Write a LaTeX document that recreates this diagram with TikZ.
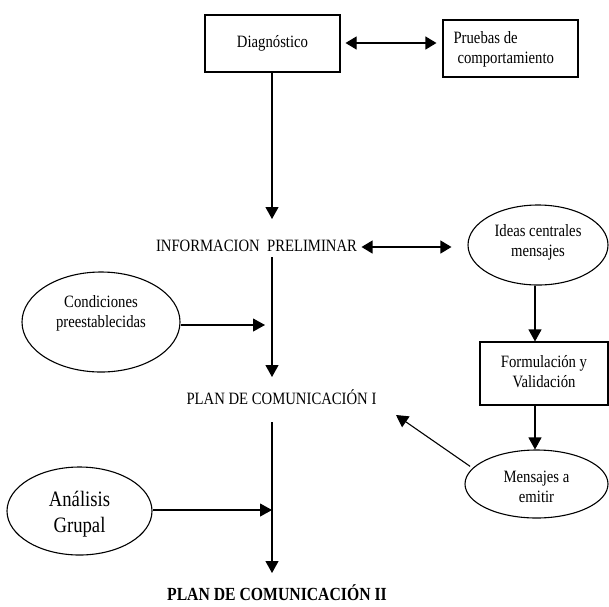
\documentclass[tikz,border=0pt]{standalone}
\usepackage{fontspec}
\setmainfont{Liberation Serif}[FakeStretch=0.85]
\usetikzlibrary{arrows.meta,shapes.geometric}
\begin{document}
\begin{tikzpicture}[x=1pt,y=-1pt, line width=1.1pt,
  arr/.style={-{Triangle[length=12pt,width=13pt]}},
  darr/.style={{Triangle[length=11pt,width=13pt]}-{Triangle[length=11pt,width=13pt]}},
  box/.style={draw, rectangle, inner sep=0pt},
  ell/.style={draw, ellipse, inner sep=0pt},
  txt/.style={font=\fontsize{17.3}{20}\selectfont, align=center, inner sep=0pt},
  big/.style={font=\fontsize{22}{26}\selectfont, align=center, inner sep=0pt},
  bold/.style={font=\fontsize{18.5}{22}\selectfont\bfseries, inner sep=0pt}]
\useasboundingbox (0,0) rectangle (609,606);

% boxes
\node[box, minimum width=135pt, minimum height=57pt] (diag) at (272.5,43.5) {};
\node[txt] (diagt) at (272.5,43) {Diagnóstico};
\node[box, minimum width=135pt, minimum height=57pt] (prue) at (510.5,48.5) {};
\node[txt, align=left, anchor=west] (pruet) at (453,49) {Pruebas de\\\hspace{4pt}comportamiento};

% texts
\node[txt] (info) at (256.5,246) {INFORMACION\ \ PRELIMINAR};
\node[txt] (plan1) at (281.5,397) {PLAN DE COMUNICACIÓN I};
\node[bold] (plan2) at (277,593) {PLAN DE COMUNICACIÓN II};

% right column
\node[ell, minimum width=140pt, minimum height=80pt] (ideas) at (538,245) {};
\node[txt] (ideast) at (538,242) {Ideas centrales\\mensajes};
\node[box, minimum width=128pt, minimum height=63pt] (form) at (544,373.5) {};
\node[txt] (formt) at (544,372) {Formulación y\\Validación};
\node[ell, minimum width=143pt, minimum height=68pt] (mens) at (536.5,484) {};
\node[txt] (menst) at (536.5,487) {Mensajes a\\emitir};

% left column
\node[ell, minimum width=158pt, minimum height=100pt] (cond) at (101,322) {};
\node[txt] (condt) at (101,313) {Condiciones\\preestablecidas};
\node[ell, minimum width=145pt, minimum height=88pt] (anal) at (79.5,511) {};
\node[big] (analt) at (79.5,514) {Análisis\\Grupal};

% coordinates on the central axis
\coordinate (t1) at (272,219);
\coordinate (s2) at (272,257);
\coordinate (t2) at (272,377);
\coordinate (s3) at (272,422);
\coordinate (t3) at (272,573);
\coordinate (h1) at (265,325);
\coordinate (h2) at (272,510);
\coordinate (vx) at (535,0);
\coordinate (dg) at (396,415);

% connectors
\draw[darr, shorten <=5pt, shorten >=6pt] (diag.east |- 0,43) -- (prue.west |- 0,43);
\draw[arr] (diag.south -| t1) -- (t1);
\draw[darr, shorten <=4pt, shorten >=16pt] (info.east |- 0,247) -- (ideas.west |- 0,247);
\draw[arr] (s2) -- (t2);
\draw[arr] (s3) -- (t3);
\draw[arr] (cond.east |- h1) -- (h1);
\draw[arr] (anal.east |- h2) -- (h2);
\draw[arr] (ideas.south -| vx) -- (form.north -| vx);
\draw[arr] (form.south -| vx) -- (mens.north -| vx);
\draw[arr, shorten <=3pt] (mens.166) -- (dg);
\end{tikzpicture}
\end{document}
